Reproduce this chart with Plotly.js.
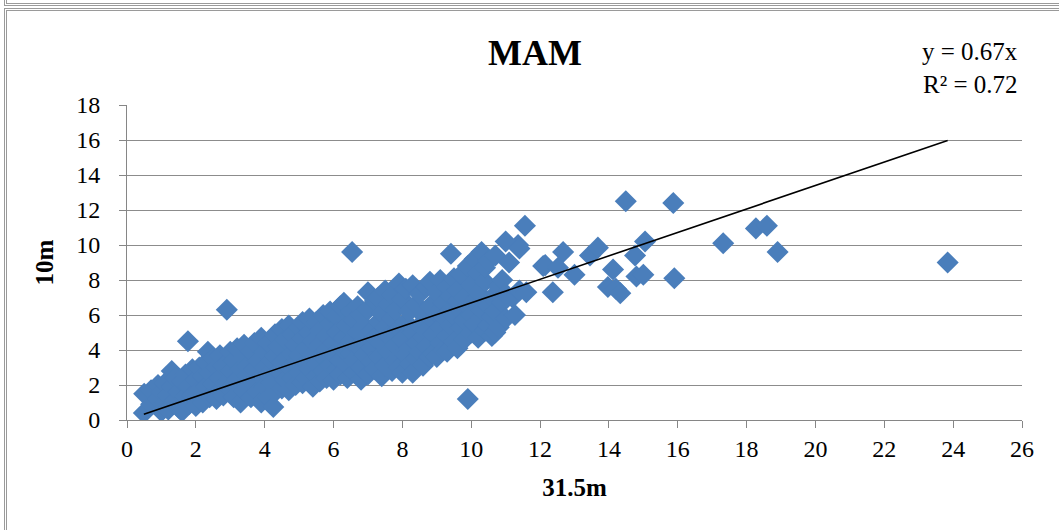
<!DOCTYPE html>
<html>
<head>
<meta charset="utf-8">
<script src="https://cdn.plot.ly/plotly-3.0.1.min.js"></script>
<style>
  html, body { margin: 0; padding: 0; background: #fff; overflow: hidden; }
  #wrap { position: relative; width: 1059px; height: 530px; }
  #chart { position: absolute; left: 0; top: 0; width: 1059px; height: 530px; }
  #prevFrame { position: absolute; left: 4px; top: -30px; width: 1200px; height: 33px;
               border-left: 3px double #9a9a9a; border-bottom: 3px double #9a9a9a; }
  #frame { position: absolute; left: 4px; top: 8px; width: 1200px; height: 700px;
           border-left: 3px double #9a9a9a; border-top: 3px double #9a9a9a; }
</style>
</head>
<body>
<div id="wrap">
  <div id="chart"></div>
  <div id="prevFrame"></div>
  <div id="frame"></div>
</div>
<script>
// 31.5m wind speed (x) vs 10m wind speed (y), MAM season
const x31 = [
  0.49,0.5, 0.7,0.7, 0.9,0.9, 1.0,1.0, 1.1,1.1, 1.2,1.2, 1.3,1.3, 1.4,1.4, 1.5,1.5, 1.6,1.6,
  1.7,1.7, 1.77, 1.8,1.8, 1.9,1.9, 2.0,2.0, 2.1,2.1, 2.2,2.2, 2.3,2.3, 2.35, 2.4,2.4, 2.5,2.5,
  2.6,2.6, 2.7,2.7,2.7, 2.8,2.8, 2.9,2.9, 3.0,3.0,3.0, 3.1,3.1, 3.2,3.2, 3.3,3.3, 3.4,3.4,3.4,
  3.5,3.5, 3.6,3.6, 3.7,3.7,3.7, 3.8,3.8, 3.9,3.9,3.9, 4.0,4.0,4.0, 4.1,4.1,4.1, 4.2,4.2, 4.25,
  4.3,4.3,4.3, 4.4,4.4, 4.5,4.5,4.5, 4.6,4.6, 4.7,4.7,4.7, 4.8,4.8,4.8, 4.9,4.9,4.9,
  5.0,5.0,5.0, 5.1,5.1,5.1, 5.2,5.2,5.2, 5.3,5.3,5.3, 5.4,5.4,5.4, 5.5,5.5,5.5, 5.6,5.6,5.6,
  5.7,5.7,5.7, 5.8,5.8,5.8, 5.9,5.9,5.9, 6.0,6.0,6.0, 6.1,6.1,6.1, 6.2,6.2,6.2, 6.3,6.3,6.3,
  6.4,6.4,6.4, 6.5,6.5,6.5, 6.54, 6.6,6.6,6.6, 6.7,6.7,6.7, 6.8,6.8,6.8, 6.9,6.9,6.9,
  7.0,7.0,7.0, 7.1,7.1,7.1, 7.2,7.2,7.2, 7.3,7.3,7.3, 7.4,7.4,7.4, 7.5,7.5,7.5, 7.6,7.6,7.6,
  7.7,7.7,7.7, 7.8,7.8,7.8, 7.9,7.9,7.9, 8.0,8.0,8.0, 8.1,8.1,8.1, 8.2,8.2,8.2, 8.3,8.3,8.3,
  8.4,8.4,8.4, 8.5,8.5,8.5, 8.6,8.6,8.6, 8.7,8.7,8.7, 8.8,8.8,8.8, 8.9,8.9,8.9, 9.0,9.0,9.0,
  9.1,9.1,9.1, 9.2,9.2,9.2, 9.3,9.3,9.3, 9.41, 9.4,9.4,9.4, 9.5,9.5,9.5, 9.6,9.6,9.6,
  9.7,9.7,9.7, 9.8,9.8,9.8, 9.9,9.9,9.9, 10.0,10.0,10.0, 10.1,10.1,10.1, 10.2,10.2,10.2,
  10.3,10.3,10.3, 10.4,10.4,10.4, 10.5,10.5,10.5, 10.6,10.6,10.6, 10.7,10.7,10.7, 10.8,10.8,
  10.9,10.9, 11.0,11.0,11.0, 11.1, 11.2, 11.27, 11.36, 11.4,11.4, 11.56, 11.6,
  12.09, 12.15, 12.37, 12.52, 12.67, 13.0, 13.45, 13.68, 13.97, 14.12, 14.2, 14.33, 14.49,
  14.76, 14.8, 15.0, 15.05, 15.87, 15.9, 17.32, 18.27, 18.59, 18.9, 23.84
];
const y10 = [
  0.4,1.5, 1.7,0.9, 1.2,2.0, 0.5,1.6, 1.0,2.1, 1.4,0.6, 2.8,1.9, 1.1,2.4, 0.7,1.6, 2.2,0.5,
  1.3,2.6, 4.5, 0.9,1.9, 2.9,1.4, 0.8,2.3, 1.7,3.0, 1.0,2.5, 1.9,3.3, 3.9, 1.3,2.7, 2.1,3.5,
  1.2,3.0, 1.7,2.4,3.7, 1.4,3.1, 6.3,2.2, 1.8,3.9,2.8, 1.3,3.4, 2.3,4.1, 1.0,2.9, 3.6,1.7,4.3,
  2.5,3.1, 1.3,3.9, 2.0,4.4,2.9, 1.6,3.4, 1.0,4.7,2.5, 3.9,1.9,3.0, 4.4,1.3,2.6, 3.4,2.1, 0.75,
  4.9,1.6,3.7, 2.8,4.2, 1.8,5.2,3.3, 2.3,4.6, 5.4,3.0,1.7, 3.8,2.4,4.9, 2.0,4.3,3.2,
  5.3,2.7,3.7, 4.7,2.1,5.6, 3.3,4.1,2.4, 5.0,2.9,5.8, 1.9,3.8,4.5, 5.6,2.5,3.2, 4.3,2.2,5.1,
  3.6,6.0,2.8, 4.8,2.4,4.0, 5.5,3.1,6.2, 2.3,4.4,3.7, 5.9,2.9,5.0, 3.4,6.5,2.6, 4.7,6.7,4.0,
  2.4,5.4,3.1, 6.2,3.8,4.5, 9.6, 2.7,5.7,3.4, 6.5,4.2,5.0, 2.3,3.0,6.0, 4.6,3.7,5.4,
  7.3,2.6,6.3, 4.1,5.1,3.3, 6.8,2.9,4.7, 5.6,3.6,7.0, 2.5,4.4,6.1, 5.3,3.1,7.4, 3.9,6.6,4.8,
  2.8,5.8,7.1, 4.3,3.4,6.3, 7.8,5.2,3.0, 4.6,6.9,2.7, 5.6,3.7,7.5, 4.1,6.2,3.2, 2.7,7.7,5.0,
  4.4,6.6,3.5, 5.4,7.2,3.9, 3.1,6.0,4.7, 7.6,5.1,4.2, 3.6,6.5,7.9, 4.9,5.7,3.8, 3.6,7.3,6.1,
  4.4,5.3,8.0, 6.7,4.0,5.9, 7.6,4.8,3.9, 9.5, 6.3,5.4,7.1, 4.5,8.1,5.9, 6.8,4.1,7.4,
  5.3,6.2,8.3, 4.6,7.0,5.7, 1.2,6.5,8.8, 5.0,7.7,6.0, 9.2,5.5,6.8, 4.7,8.4,7.3,
  9.6,5.8,6.3, 5.1,7.9,8.7, 6.5,9.1,5.4, 4.8,7.0,5.9, 9.4,5.0,6.2, 7.6,5.3,
  6.7,8.0, 10.2,5.8,7.2, 9.0, 7.0, 6.0, 10.0, 7.4,9.8, 11.1, 7.3,
  8.8, 8.85, 7.3, 8.7, 9.6, 8.3, 9.4, 9.85, 7.6, 8.6, 7.5, 7.25, 12.5,
  9.4, 8.2, 8.3, 10.2, 12.4, 8.1, 10.1, 10.95, 11.1, 9.6, 9.0
];
const slope = 0.67;
const rSquared = 0.72;
const xTicks = [0,2,4,6,8,10,12,14,16,18,20,22,24,26];
const yTicks = [0,2,4,6,8,10,12,14,16,18];

const xMin = Math.min(...x31), xMax = Math.max(...x31);
const serif = '"Liberation Serif", "Times New Roman", serif';

const scatter = {
  x: x31, y: y10, type: 'scatter', mode: 'markers',
  marker: { symbol: 'diamond', size: 17, color: '#4A7EBB', line: { width: 0 } },
  hoverinfo: 'x+y', showlegend: false
};
const trend = {
  x: [xMin, xMax], y: [slope * xMin, slope * xMax], type: 'scatter', mode: 'lines',
  line: { color: '#000', width: 1.6 }, hoverinfo: 'skip', showlegend: false
};

const layout = {
  width: 1059, height: 530,
  margin: { l: 127, r: 37, t: 105, b: 110 },
  paper_bgcolor: '#fff', plot_bgcolor: '#fff',
  font: { family: serif, color: '#000', size: 24 },
  title: { text: '<b>MAM</b>', font: { family: serif, size: 36, color: '#000' },
           xref: 'container', x: 535 / 1059, xanchor: 'center',
           yref: 'container', y: 1 - 52 / 530, yanchor: 'middle' },
  xaxis: {
    range: [0, 26], tickvals: xTicks, ticktext: xTicks.map(String),
    showgrid: false, zeroline: false,
    showline: true, linecolor: '#868686', linewidth: 1,
    ticks: 'outside', ticklen: 7, tickcolor: '#868686', tickwidth: 1,
    tickfont: { family: serif, size: 24, color: '#000' },
    title: { text: '<b>31.5m</b>', font: { family: serif, size: 25, color: '#000' }, standoff: 17 }
  },
  yaxis: {
    range: [0, 18], tickvals: yTicks, ticktext: yTicks.map(String),
    showgrid: true, gridcolor: '#8c8c8c', gridwidth: 1, zeroline: false,
    showline: true, linecolor: '#868686', linewidth: 1,
    ticks: 'outside', ticklen: 7, tickcolor: '#868686', tickwidth: 1,
    ticklabelstandoff: 14,
    tickfont: { family: serif, size: 24, color: '#000' },
    title: { text: '<b>10m</b>', font: { family: serif, size: 25, color: '#000' }, standoff: 15 }
  },
  annotations: [
    { xref: 'paper', yref: 'paper', x: (1020 - 127) / 895, y: (420 - 52) / 315,
      xanchor: 'right', yanchor: 'middle', showarrow: false, align: 'right',
      text: 'y = ' + slope.toFixed(2) + 'x', font: { family: serif, size: 25, color: '#000' } },
    { xref: 'paper', yref: 'paper', x: (1020 - 127) / 895, y: (420 - 84) / 315,
      xanchor: 'right', yanchor: 'middle', showarrow: false, align: 'right',
      text: 'R² = ' + rSquared.toFixed(2), font: { family: serif, size: 25, color: '#000' } }
  ]
};

Plotly.newPlot('chart', [scatter, trend], layout, { displayModeBar: false, staticPlot: true });
</script>
</body>
</html>
